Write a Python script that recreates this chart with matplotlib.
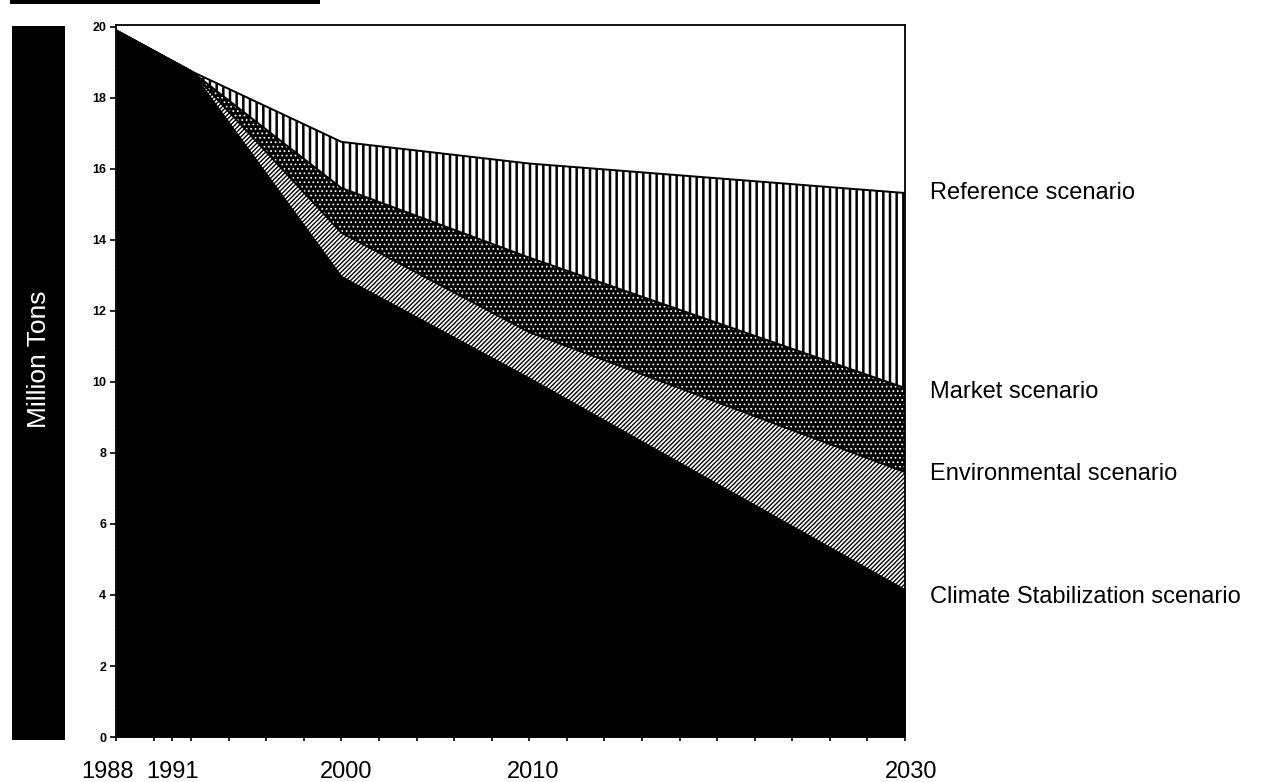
import matplotlib
matplotlib.use('Agg')
import matplotlib.pyplot as plt
import matplotlib.transforms as mtransforms
from matplotlib.patches import Rectangle

# ---- data ----
years = [1988, 1992, 2000, 2010, 2030]
reference = [19.9, 18.75, 16.76, 16.15, 15.32]
market = [19.9, 18.75, 15.46, 13.5, 9.83]
environmental = [19.9, 18.75, 14.2, 11.4, 7.46]
climate = [19.9, 18.75, 12.96, 10.1, 4.14]

tick_years = [1988, 1991, 2000, 2010, 2030]
tick_labels = ['1988', '1991', '2000', '2010', '2030']
minor_years = list(range(1988, 2031, 2))
y_ticks = list(range(0, 21, 2))
scenario_labels = ['Reference scenario', 'Market scenario',
                   'Environmental scenario', 'Climate Stabilization scenario']
y_label = 'Million Tons'

plt.rcParams['font.family'] = ['Liberation Sans', 'DejaVu Sans']

DPI = 80
S = 100 / DPI  # scale so that point sizes look as they would at 100 dpi

fig = plt.figure(figsize=(1265 / DPI, 782 / DPI), dpi=DPI)
ax = fig.add_axes([0.0917, 0.0575, 0.6237, 0.9105])


def layer(top, face, hatch, edge, hlw):
    with plt.rc_context({'hatch.linewidth': hlw, 'hatch.color': edge}):
        coll = ax.fill_between(years, 0, top, facecolor=face, hatch=hatch,
                               edgecolor=edge, linewidth=0, zorder=1)
        if hasattr(coll, 'set_hatch_linewidth'):
            coll.set_hatch_linewidth(hlw)
    return coll


layer(reference, 'white', '||', 'black', 1.8 * S)
layer(market, 'black', '...', 'white', 0.7 * S)
layer(environmental, 'white', '//////', 'black', 1.0 * S)
layer(climate, 'black', None, 'black', 1.0)

for series in (reference, market, environmental, climate):
    ax.plot(years, series, color='black', lw=1.4 * S, zorder=3)

ax.set_xlim(1988, 2030)
ax.set_ylim(0, 20.05)

ax.set_xticks(tick_years, tick_labels, fontsize=17 * S)
ax.set_xticks(minor_years, minor=True)
ax.tick_params(axis='x', which='both', direction='out', length=3 * S,
               width=1.2 * S, pad=14 * S)
ax.set_yticks(y_ticks, [str(v) for v in y_ticks])
ax.tick_params(axis='y', direction='out', length=4 * S, width=1.2 * S,
               pad=3 * S, labelsize=9 * S)
for t in ax.get_yticklabels():
    t.set_fontweight('bold')
# the reference's year labels sit slightly left/right of their ticks
xoffs = [-9, 0, 5, 4, 6]
for t, dx in zip(ax.get_xticklabels(), xoffs):
    t.set_transform(t.get_transform() + mtransforms.ScaledTranslation(dx / DPI, 0, fig.dpi_scale_trans))

for sp in ax.spines.values():
    sp.set_linewidth(1.3 * S)
    sp.set_zorder(4)

# labels at right end of each series
trans = mtransforms.blended_transform_factory(ax.transAxes, ax.transData)
ends = [reference[-1], market[-1] - 0.1, environmental[-1] - 0.05, climate[-1] - 0.2]
for lab, yv in zip(scenario_labels, ends):
    ax.text(1.032, yv, lab, transform=trans, fontsize=17 * S, va='center',
            ha='left', clip_on=False)

# black y-label box
fig.patches.append(Rectangle((0.0095, 0.0537), 0.0419, 0.9131, transform=fig.transFigure,
                             facecolor='black', edgecolor='none', zorder=0))
fig.text(0.031, 0.541, y_label, rotation=90, color='white', fontsize=19 * S,
         ha='center', va='center')

# scan bar along the top-left edge
fig.patches.append(Rectangle((10 / 1265, 1 - 4 / 782), 310 / 1265, 4 / 782,
                             transform=fig.transFigure, facecolor='black',
                             edgecolor='none', zorder=0))

fig.savefig('out.png', dpi=DPI)
